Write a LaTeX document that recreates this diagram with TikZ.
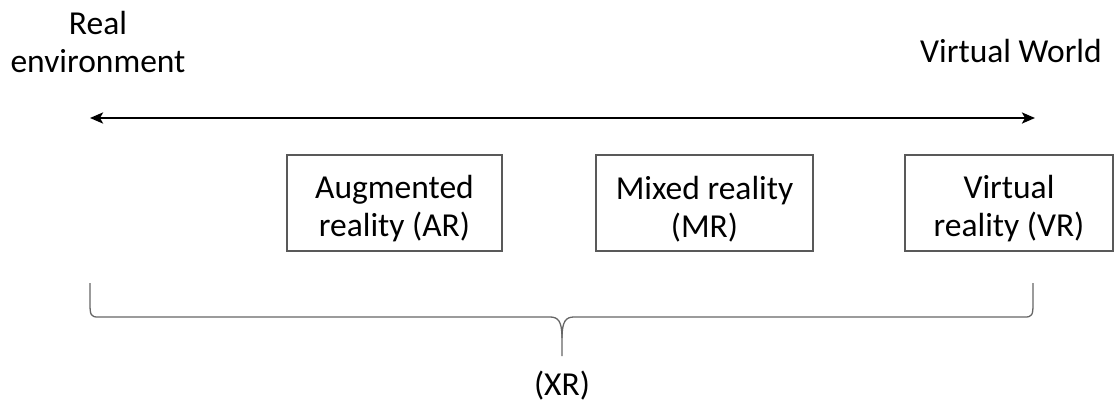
\documentclass[tikz,border=0pt]{standalone}
\usepackage{fontspec}
\setmainfont{Carlito}
\usetikzlibrary{arrows.meta}
\begin{document}
\begin{tikzpicture}[x=1pt,y=-1pt,
  every node/.style={font=\fontsize{33.5}{38}\selectfont, text=black},
  plaintext/.style={align=center, inner sep=0pt},
  kind/.style={draw=black!65, line width=1.4pt, rectangle,
    minimum height=96pt, inner sep=0pt},
  caption/.style={label={[plaintext, yshift=-6pt]center:#1}},
  spectrum/.style={line width=2.4pt,
    {Stealth[length=13pt,width=11pt,inset=3pt]}-{Stealth[length=13pt,width=11pt,inset=3pt]}},
  bracket/.style={draw=black!60, line width=1.3pt}
]
\useasboundingbox (0,0) rectangle (1116,410);

% end labels of the spectrum
\node[plaintext] (real) at (98,42) {Real\\environment};
\node[plaintext, anchor=base] (virtualworld) at (1011,62) {Virtual World};

% the spectrum itself
\coordinate (left) at (90,118);
\coordinate (right) at (1035,118);
\draw[spectrum] (left) -- (right);

% the three kinds of reality
\node[kind, minimum width=215pt, caption={Augmented\\reality (AR)}] (ar) at (394.5,203) {};
\node[kind, minimum width=217pt, caption={Mixed reality\\(MR)}] (mr) at (704.5,203) {};
\node[kind, minimum width=208pt, caption={Virtual\\reality (VR)}] (vr) at (1009,203) {};

% curly bracket grouping them as extended reality
\coordinate (bl) at (90,283);
\coordinate (br) at (1033,283);
\coordinate (tip) at (562,356);
\draw[bracket] (bl) -- (90,304) .. controls (90,315) and (91,317) .. (98,317)
  -- (550,317) .. controls (558,317) and (562,321) .. (562,338) -- (tip);
\draw[bracket] (562,338) .. controls (562,321) and (566,317) .. (574,317)
  -- (1025,317) .. controls (1032,317) and (1033,315) .. (1033,304) -- (br);
\node[plaintext] (xr) at (562,386) {(XR)};
\end{tikzpicture}
\end{document}
